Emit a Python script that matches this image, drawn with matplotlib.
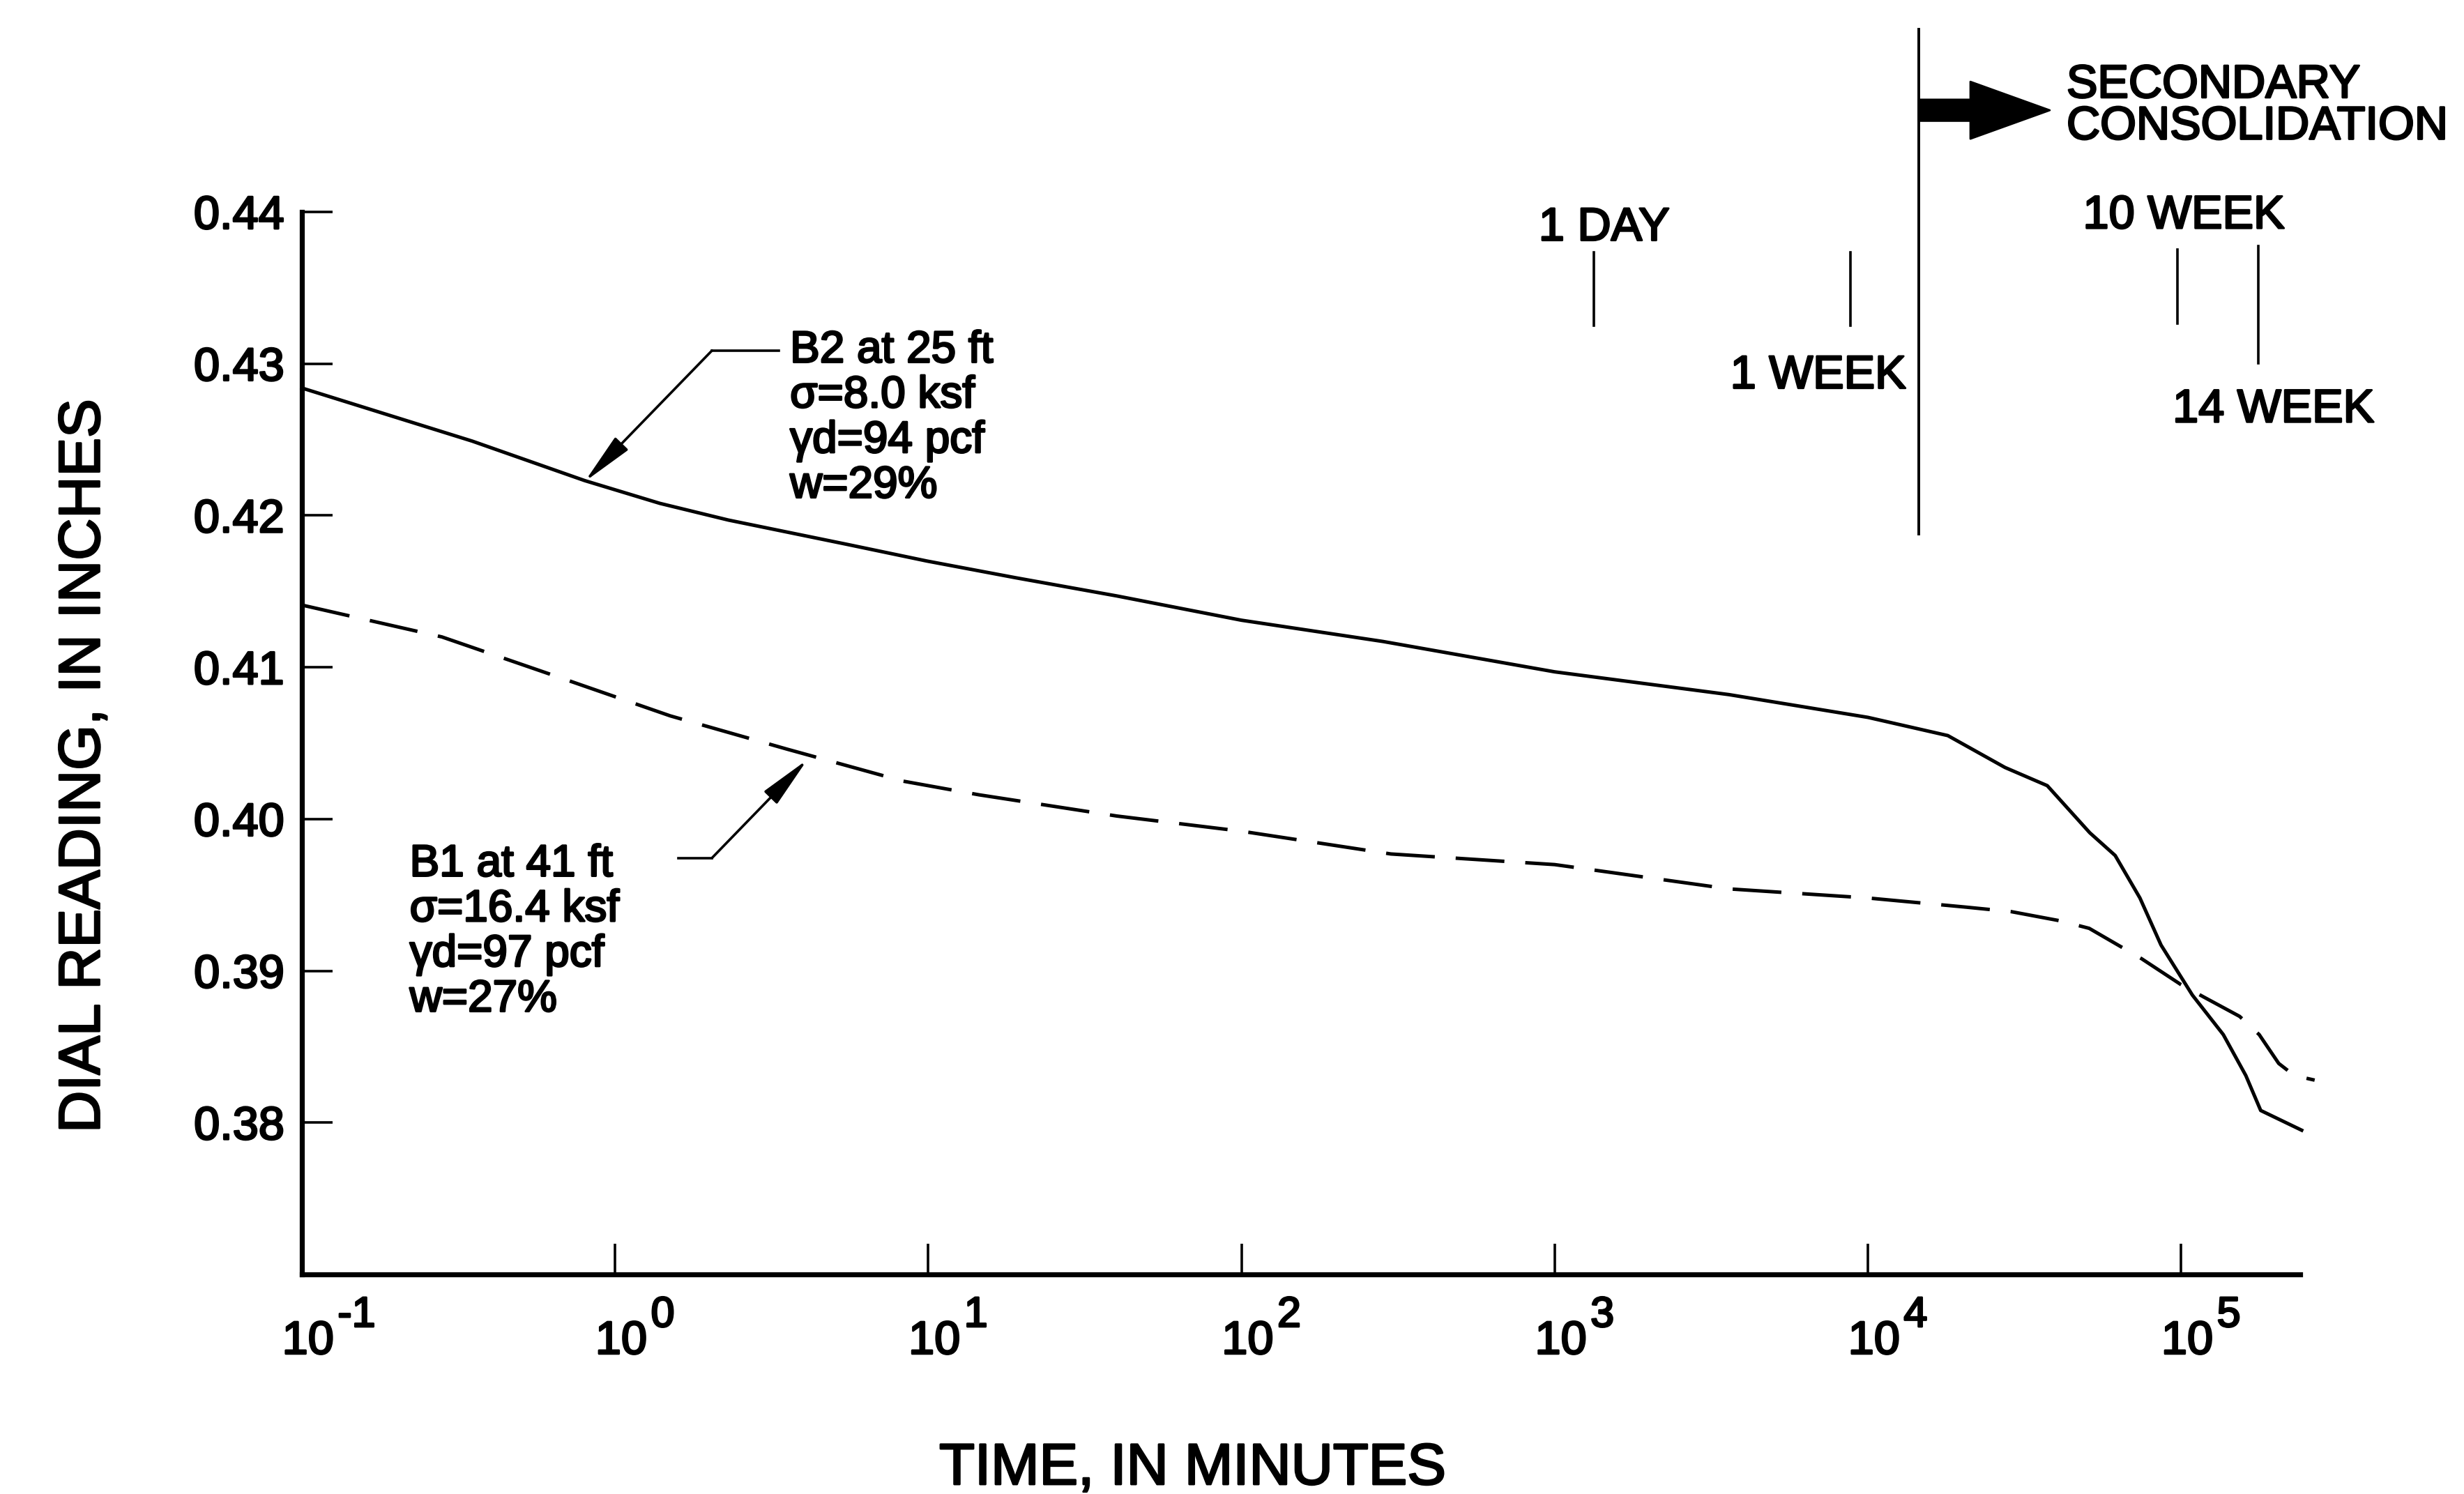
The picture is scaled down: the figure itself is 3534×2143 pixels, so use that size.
import matplotlib
matplotlib.use('Agg')
import matplotlib.pyplot as plt
from matplotlib import patheffects as pe
from matplotlib.ticker import FixedLocator, NullLocator, NullFormatter
from matplotlib.patches import FancyArrowPatch

plt.rcParams['font.family'] = ['Liberation Sans', 'DejaVu Sans']

# B2 at 25 ft (solid curve), time in minutes / dial reading in inches
b2_time = [0.1, 0.35, 0.8, 1.39, 2.3, 5.5, 9.9, 19, 40, 100, 283, 1000, 3600, 10000, 18000,
           27400, 37400, 51100, 61600, 73900, 86300, 108700, 136400, 161000, 179600, 242700]
b2_dial = [0.4284, 0.4249, 0.4223, 0.4208, 0.4197, 0.4181, 0.4170, 0.4159, 0.4147,
           0.4131, 0.4117, 0.4097, 0.4082, 0.4067, 0.4055, 0.4034, 0.4022, 0.3991, 0.3976,
           0.3948, 0.3917, 0.3884, 0.3858, 0.3831, 0.3808, 0.3795]

# B1 at 41 ft (dashed curve)
b1_time = [0.1, 0.28, 0.65, 1.5, 3.55, 8.3, 14.5, 40, 100, 300, 1000, 3600, 10000,
           20500, 28700, 41000, 50900, 74800, 99800, 120000, 153800, 177600, 205000, 230000, 267000]
b1_dial = [0.4141, 0.4120, 0.4094, 0.4068, 0.4046, 0.4025, 0.4016, 0.4002, 0.3992, 0.3977,
           0.3970, 0.3954, 0.3948, 0.3942, 0.3939, 0.3933, 0.3928, 0.3908, 0.3891, 0.3882,
           0.3870, 0.3858, 0.3839, 0.3831, 0.3828]

x_exps = [-1, 0, 1, 2, 3, 4, 5]
y_ticks = [0.38, 0.39, 0.40, 0.41, 0.42, 0.43, 0.44]
y_ticklabels = ['0.38', '0.39', '0.40', '0.41', '0.42', '0.43', '0.44']

# elapsed time marks
mark_text = ['1 DAY', '1 WEEK', '10 WEEK', '14 WEEK']
mark_time = [1334, 8790, 97500, 176200]
mark_top = [0.43735, 0.43735, 0.43754, 0.43777]
mark_bot = [0.43253, 0.43253, 0.43263, 0.43005]
mark_text_x = [1439, 13230, 102000, 94000]
mark_text_y = [0.43813, 0.42839, 0.43893, 0.42616]
mark_text_ha = ['center', 'right', 'center', 'left']

# start of secondary consolidation
sec_time = 14540
sec_top, sec_bot = 0.45205, 0.41879
sec_tip = 38100
sec_arrow_y = 0.44670
sec_text_x, sec_text_y = 43100, 0.44695

# curve labels (y = baseline of last line)
b2_label = 'B2 at 25 ft\nσ=8.0 ksf\nγd=94 pcf\nw=29%'
b2_label_xy = (3.62, 0.42118)
b2_leader = [(3.33, 0.43087), (2.04, 0.43087), (0.801, 0.42224)]
b1_label = 'B1 at 41 ft\nσ=16.4 ksf\nγd=97 pcf\nw=27%'
b1_label_xy = (0.221, 0.38733)
b1_leader = [(1.59, 0.39744), (2.04, 0.39744), (4.11, 0.40391)]

THICK = [pe.withStroke(linewidth=1.0, foreground='k')]

fig = plt.figure(figsize=(17.67, 10.715), dpi=200)
ax = fig.add_axes([0.1225, 0.14699, 0.8110, 0.71115])
ax.set_xscale('log')
ax.set_xlim(0.1, 2.4e5)
ax.set_ylim(0.37, 0.44)
ax.spines['top'].set_visible(False)
ax.spines['right'].set_visible(False)
ax.spines['left'].set_linewidth(2.6)
ax.spines['bottom'].set_linewidth(2.6)

ax.xaxis.set_major_locator(FixedLocator([10.0**e for e in x_exps]))
ax.xaxis.set_minor_locator(NullLocator())
ax.xaxis.set_major_formatter(NullFormatter())
ax.set_yticks(y_ticks)
ax.set_yticklabels(y_ticklabels, fontsize=24)
for lab in ax.get_yticklabels():
    lab.set_path_effects(THICK)
ax.tick_params(axis='both', direction='in', length=16, width=1.3, colors='k')
ax.tick_params(axis='y', pad=9)

for e in x_exps:
    ax.annotate('10', xy=(10.0**e, 0), xycoords=('data', 'axes fraction'), xytext=(3.2, -41),
                textcoords='offset points', ha='center', va='baseline', fontsize=24,
                path_effects=THICK)
    ax.annotate(str(e), xy=(10.0**e, 0), xycoords=('data', 'axes fraction'), xytext=(18.5, -27),
                textcoords='offset points', ha='left', va='baseline', fontsize=22,
                path_effects=THICK)

ax.plot(b2_time, b2_dial, color='k', lw=1.8, clip_on=False)
ax.plot(b1_time, b1_dial, color='k', lw=1.8, dashes=(14, 6), clip_on=False)

# secondary consolidation line and arrow
ax.plot([sec_time, sec_time], [sec_top, sec_bot], color='k', lw=1.4, clip_on=False)
arr = FancyArrowPatch((sec_time, sec_arrow_y), (sec_tip, sec_arrow_y),
                      arrowstyle='simple,head_length=4.1,head_width=2.95,tail_width=1.1',
                      mutation_scale=10, color='k', shrinkA=0, shrinkB=0, clip_on=False)
ax.add_patch(arr)
ax.text(sec_text_x, sec_text_y, 'SECONDARY\nCONSOLIDATION', ha='left', va='center',
        fontsize=24, linespacing=0.95, path_effects=THICK)

for lab, t, y0, y1, tx, ty, ha in zip(mark_text, mark_time, mark_top, mark_bot,
                                      mark_text_x, mark_text_y, mark_text_ha):
    ax.plot([t, t], [y0, y1], color='k', lw=1.3, clip_on=False)
    ax.text(tx, ty, lab, ha=ha, va='baseline', fontsize=24, path_effects=THICK)

# labels with leader arrows
for lab, xy, leader in [(b2_label, b2_label_xy, b2_leader), (b1_label, b1_label_xy, b1_leader)]:
    ax.text(xy[0], xy[1], lab, ha='left', va='baseline', fontsize=23, linespacing=1.1,
            path_effects=THICK)
    ax.plot([leader[0][0], leader[1][0]], [leader[0][1], leader[1][1]], color='k', lw=1.3)
    ax.annotate('', xy=leader[2], xytext=leader[1],
                arrowprops=dict(arrowstyle='-|>,head_length=2.3,head_width=0.4', mutation_scale=10,
                                color='k', lw=1.3, shrinkA=0, shrinkB=0))

fig.text(0.0341, 0.4876, 'DIAL READING, IN INCHES', rotation=90, ha='center', va='center',
         fontsize=30, path_effects=THICK)
fig.text(0.4841, 0.0065, 'TIME, IN MINUTES', ha='center', va='baseline', fontsize=30,
         path_effects=THICK)

fig.savefig('out.png', dpi=200, facecolor='w')
